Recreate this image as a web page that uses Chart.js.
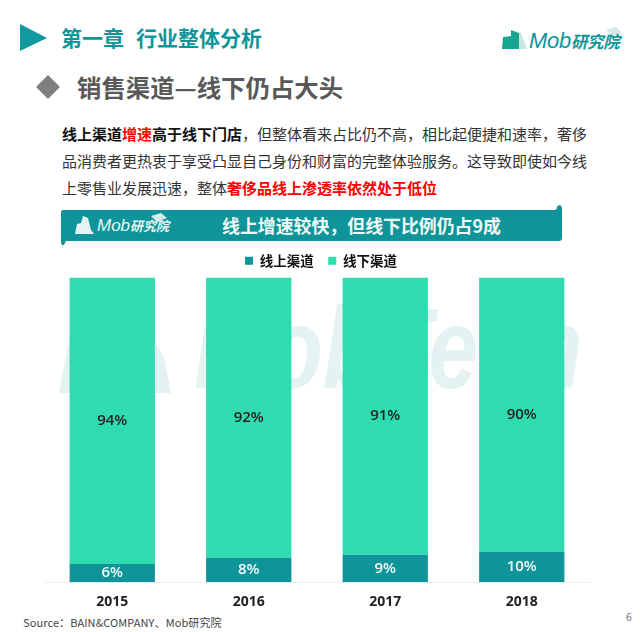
<!DOCTYPE html>
<html><head><meta charset="utf-8">
<style>
html,body{margin:0;padding:0;background:#fff}
#page{position:relative;width:640px;height:632px;overflow:hidden;font-family:"Noto Sans CJK SC","Noto Sans",sans-serif}
#page>*{position:absolute}
.t{white-space:nowrap;line-height:1}
canvas{left:0;top:0}
.line{left:62px;font-size:15px;color:#333}
b.k{color:#111}b.r{color:#f00}
</style></head><body>
<div id="page">
<svg width="640" height="632" style="left:0;top:0">
 <polygon points="20,24 47,38 20,51" fill="#0f9aa0"/>
 <polygon points="48,75 60,87 48,99 36,87" fill="#7f7f7f"/>
 <path d="M63 210 H554 Q557 210 557 207 Q558 205 560 205 Q562 206 562 209 V238 Q562 241 559 241 H67 Q65 241 65 243 Q64 246 62 245 Q61 244 61 242 V212 Q61 210 63 210Z" fill="#0f9599"/>
 <polygon points="75,234 77,224 81,223 83,216 88,218 91,230 94,234" fill="#e4f4f3"/>
 <polygon points="502,49 503,37 511,36 511,30 519,33 519,49" fill="#17a58f"/>
 <polygon points="512,27 521,33 527,49 519,49 519,33" fill="#c5e9e2"/>
 <polygon points="606,30 616,27 622,33 612,36" fill="#cfeae6"/>
 <polygon points="151,216 161,213 167,218 157,222" fill="#d5ecea"/>
 <polygon points="59,393 70,335 110,312 150,335 164,357 171,393" fill="#e4f3f1"/>
</svg>
<div class="t" style="left:61px;top:27px;font-size:21px;font-weight:700;color:#0f9599">第一章</div>
<div class="t" style="left:136px;top:27px;font-size:21px;font-weight:700;color:#0f9599">行业整体分析</div>
<div class="t" style="left:529px;top:30px;font-size:22px;font-style:italic;font-weight:500;color:#0f9599;letter-spacing:-.3px;font-family:'Liberation Sans'">Mob<span style="font-family:'Noto Sans CJK SC';font-size:16.5px;font-weight:700">研究院</span></div>
<div class="t" style="left:77px;top:75px;font-size:24.4px;font-weight:700;color:#595959">销售渠道—线下仍占大头</div>
<div class="t line" style="top:126px"><b class="k">线上渠道</b><b class="r">增速</b><b class="k">高于线下门店</b>，但整体看来占比仍不高，相比起便捷和速率，奢侈</div>
<div class="t line" style="top:153px">品消费者更热衷于享受凸显自己身份和财富的完整体验服务。这导致即使如今线</div>
<div class="t line" style="top:180px">上零售业发展迅速，整体<b class="r">奢侈品线上渗透率依然处于低位</b></div>
<div class="t" style="left:97px;top:217px;font-size:17px;font-style:italic;color:#e8f5f4;font-family:'Liberation Sans'">Mob<span style="font-family:'Noto Sans CJK SC';font-size:13px;font-weight:700">研究院</span></div>
<div class="t" style="left:222px;top:217px;font-size:17.9px;font-weight:700;color:#eefafa">线上增速较快，但线下比例仍占9成</div>
<div class="t" style="left:194px;top:291px;font-size:115px;font-weight:700;font-style:italic;color:#e4f3f1;font-family:'Liberation Sans';transform:scaleX(.776);transform-origin:0 0">MobTech</div>
<div class="t" style="left:23px;top:617px;font-size:11px;color:#444;letter-spacing:.1px">Source：BAIN&amp;COMPANY、Mob研究院</div>
<div class="t" style="left:626px;top:612px;font-size:10.5px;color:#777">6</div>
<canvas id="c" width="640" height="632" style="position:absolute"></canvas>
</div>
<script src="https://cdn.jsdelivr.net/npm/chart.js@4/dist/chart.umd.min.js"></script>
<script>
const categories=["2015","2016","2017","2018"];
const onlineLabel="线上渠道";
const offlineLabel="线下渠道";
const onlineValues=[6,8,9,10];
const offlineValues=[94,92,91,90];
const valueLabels={
  id:'valueLabels',
  afterLayout(chart){
    chart.legend.left+=4;chart.legend.right+=4;
  },
  afterDatasetsDraw(chart){
    const ctx=chart.ctx;
    chart.data.datasets.forEach((ds,i)=>{
      chart.getDatasetMeta(i).data.forEach((bar,j)=>{
        const p=bar.getProps(['x','y','base'],true);
        ctx.save();
        ctx.font='600 15px "Open Sans"';
        ctx.textAlign='center';ctx.textBaseline='middle';
        ctx.fillStyle=i===0?'#f2fbfa':'#222';
        ctx.fillText(ds.data[j]+'%',p.x,(p.y+p.base)/2);
        ctx.restore();
      });
    });
  }
};
new Chart(document.getElementById('c'),{
  type:'bar',
  data:{labels:categories,datasets:[
    {label:onlineLabel,data:onlineValues,backgroundColor:'#0f9599',stack:'s'},
    {label:offlineLabel,data:offlineValues,backgroundColor:'#2fdcb0',stack:'s'}
  ]},
  options:{
    responsive:false,animation:false,
    layout:{padding:{left:44,right:50,top:239.5,bottom:19}},
    datasets:{bar:{categoryPercentage:0.625,barPercentage:1}},
    plugins:{
      legend:{position:'top',labels:{boxWidth:8,boxHeight:8,padding:14.5,color:'#111',font:{size:13.5,weight:'700',family:'"Noto Sans CJK SC"'}}},
      tooltip:{enabled:false}
    },
    scales:{
      x:{stacked:true,grid:{display:false},border:{color:'#eeeeee'},ticks:{color:'#222',padding:3,font:{size:14,weight:'700',family:'"Open Sans"'}}},
      y:{stacked:true,display:false,min:0,max:100}
    }
  },
  plugins:[valueLabels]
});
</script>
</body></html>
